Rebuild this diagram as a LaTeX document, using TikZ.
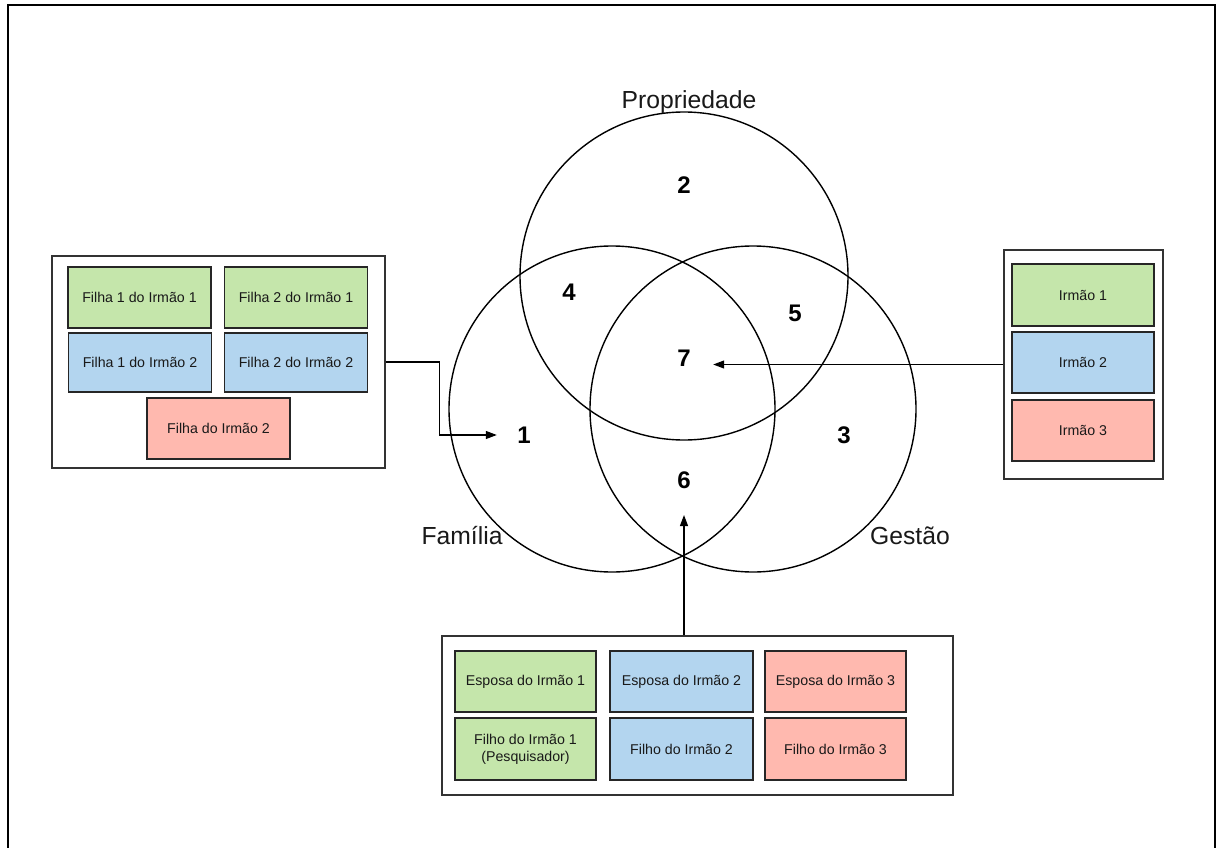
\documentclass[tikz,border=0pt]{standalone}
\usepackage{fontspec}
\setmainfont{Liberation Sans}
\usetikzlibrary{arrows.meta}

\definecolor{verde}{HTML}{C5E6AB}
\definecolor{azul}{HTML}{B3D5EF}
\definecolor{rosa}{HTML}{FFB9AF}

\tikzset{
  caixa/.style={draw=black!85, line width=1.2pt, minimum width=143pt, minimum height=61pt, inner sep=2pt, align=center, text=black!90, font=\fontsize{14.2}{17}\selectfont},
  grupo/.style={draw=black!80, line width=1.2pt, fill=white, inner sep=0pt},
  num/.style={font=\fontsize{24}{26}\selectfont\bfseries},
  rotulo/.style={text=black!90, font=\fontsize{24.7}{27}\selectfont},
  seta/.style={line width=1.2pt, -{Triangle[length=11pt,width=8pt]}},
  circulo/.style={line width=1.4pt}
}

\begin{document}
\begin{tikzpicture}[x=1pt,y=-1pt]
\useasboundingbox (0,0) rectangle (1218,848);
\draw[line width=2.2pt] (8,848) -- (8,5) -- (1215,5) -- (1215,848);

% diagrama de Venn
\draw[circulo] (684,276) circle[radius=164pt];
\draw[circulo] (612,409) circle[radius=163pt];
\draw[circulo] (753,409) circle[radius=163pt];

\node[rotulo] (prop) at (689,102.5) {Propriedade};
\node[rotulo] (fam) at (462,535.5) {Família};
\node[rotulo] (gest) at (910,535.5) {Gestão};

\node[num] (n1) at (524,435) {1};
\node[num] (n2) at (684,185) {2};
\node[num] (n3) at (844,435) {3};
\node[num] (n4) at (569,292) {4};
\node[num] (n5) at (795,313) {5};
\node[num] (n6) at (684,480) {6};
\node[num] (n7) at (684,358) {7};

% filhas
\node[grupo, minimum width=333pt, minimum height=212pt] (filhas) at (218.5,362) {};
\node[caixa, fill=verde] (f1i1) at (139.5,297.5) {Filha 1 do Irmão 1};
\node[caixa, fill=verde] (f2i1) at (296,297.5) {Filha 2 do Irmão 1};
\node[caixa, fill=azul, minimum height=59pt] (f1i2) at (140,362.5) {Filha 1 do Irmão 2};
\node[caixa, fill=azul, minimum height=59pt] (f2i2) at (296,362.5) {Filha 2 do Irmão 2};
\node[caixa, fill=rosa] (fi2) at (218.5,428.5) {Filha do Irmão 2};

% irmaos
\node[grupo, minimum width=159pt, minimum height=229pt] (irmaos) at (1083.5,364.5) {};
\node[caixa, fill=verde, minimum width=142pt, minimum height=62pt] (i1) at (1083,295) {Irmão 1};
\node[caixa, fill=azul, minimum width=142pt, minimum height=61pt] (i2) at (1083,362.5) {Irmão 2};
\node[caixa, fill=rosa, minimum width=142pt, minimum height=61pt] (i3) at (1083,430.5) {Irmão 3};

% esposas e filhos
\node[grupo, minimum width=511pt, minimum height=159pt] (esposas) at (697.5,715.5) {};
\node[caixa, fill=verde, minimum width=141pt] (e1) at (525.5,681.5) {Esposa do Irmão 1};
\node[caixa, fill=azul] (e2) at (681.5,681.5) {Esposa do Irmão 2};
\node[caixa, fill=rosa, minimum width=141pt] (e3) at (835.5,681.5) {Esposa do Irmão 3};
\node[caixa, fill=verde, minimum width=141pt, minimum height=62pt] (fo1) at (525.5,749) {Filho do Irmão 1\\(Pesquisador)};
\node[caixa, fill=azul, minimum height=62pt] (fo2) at (681.5,749) {Filho do Irmão 2};
\node[caixa, fill=rosa, minimum width=141pt, minimum height=62pt] (fo3) at (835.5,749) {Filho do Irmão 3};

% setas
\draw[seta, shorten >=17pt] (filhas.east) -- ++(54,0) |- (n1.west);
\draw[seta, shorten >=19pt] (irmaos.west) -- (irmaos.west -| n7.east);
\draw[seta, shorten >=23pt] (esposas.north -| n6) -- (n6.south);
\end{tikzpicture}
\end{document}
